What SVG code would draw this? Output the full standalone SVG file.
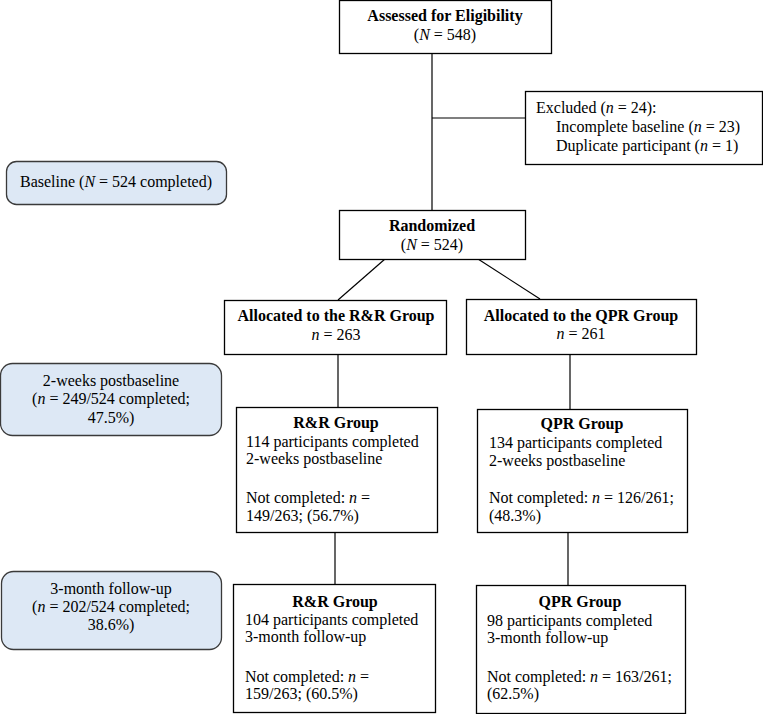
<svg xmlns="http://www.w3.org/2000/svg" width="763" height="714" viewBox="0 0 763 714">
<style>
text{font-family:"Liberation Serif","Times New Roman",serif;font-size:16px;fill:#000}
.b{font-weight:bold}
.c{text-anchor:middle}
.box{fill:#fff;stroke:#000;stroke-width:1.3}
.lbl{fill:#dde8f5;stroke:#3a3a3a;stroke-width:1.3}
.ln{stroke:#000;stroke-width:1.2;fill:none}
</style>
<rect width="763" height="714" fill="#fff"/>
<g id="connectors">
<line class="ln" x1="432" y1="53" x2="432" y2="210"/>
<line class="ln" x1="432" y1="118" x2="525" y2="118"/>
<line class="ln" x1="385" y1="259" x2="338" y2="300"/>
<line class="ln" x1="478" y1="259" x2="540" y2="299"/>
<line class="ln" x1="338" y1="354" x2="338" y2="407"/>
<line class="ln" x1="570" y1="354" x2="570" y2="409"/>
<line class="ln" x1="335" y1="532" x2="335" y2="584"/>
<line class="ln" x1="568" y1="532" x2="568" y2="585"/>
</g>
<g id="assessed">
<rect class="box" x="339.5" y="0.5" width="212" height="53"/>
<text class="b c" x="445" y="21">Assessed for Eligibility</text>
<text class="c" x="445" y="40">(<tspan font-style="italic">N</tspan> = 548)</text>
</g>
<g id="excluded">
<rect class="box" x="525.5" y="91.5" width="237" height="73"/>
<text x="536" y="113">Excluded (<tspan font-style="italic">n</tspan> = 24):</text>
<text x="556" y="132">Incomplete baseline (<tspan font-style="italic">n</tspan> = 23)</text>
<text x="556" y="151">Duplicate participant (<tspan font-style="italic">n</tspan> = 1)</text>
</g>
<g id="baseline">
<rect class="lbl" x="6.5" y="161.5" width="220" height="43" rx="10"/>
<text class="c" x="116" y="187">Baseline (<tspan font-style="italic">N</tspan> = 524 completed)</text>
</g>
<g id="randomized">
<rect class="box" x="339.5" y="210.5" width="186" height="49"/>
<text class="b c" x="432" y="231">Randomized</text>
<text class="c" x="432" y="250">(<tspan font-style="italic">N</tspan> = 524)</text>
</g>
<g id="alloc-rr">
<rect class="box" x="224.5" y="300.5" width="222" height="54"/>
<text class="b c" x="336" y="321">Allocated to the R&amp;R Group</text>
<text class="c" x="336" y="340"><tspan font-style="italic">n</tspan> = 263</text>
</g>
<g id="alloc-qpr">
<rect class="box" x="466.5" y="299.5" width="230" height="55"/>
<text class="b c" x="581" y="321">Allocated to the QPR Group</text>
<text class="c" x="581" y="339"><tspan font-style="italic">n</tspan> = 261</text>
</g>
<g id="label-2wk">
<rect class="lbl" x="0.5" y="363.5" width="221" height="72" rx="12"/>
<text class="c" x="111" y="386">2-weeks postbaseline</text>
<text class="c" x="111" y="404">(<tspan font-style="italic">n</tspan> = 249/524 completed;</text>
<text class="c" x="111" y="423">47.5%)</text>
</g>
<g id="rr-2wk">
<rect class="box" x="236.5" y="407.5" width="201" height="125"/>
<text class="b c" x="336" y="428">R&amp;R Group</text>
<text x="246" y="447">114 participants completed</text>
<text x="246" y="464">2-weeks postbaseline</text>
<text x="246" y="503">Not completed: <tspan font-style="italic">n</tspan> =</text>
<text x="246" y="521">149/263; (56.7%)</text>
</g>
<g id="qpr-2wk">
<rect class="box" x="477.5" y="409.5" width="210" height="123"/>
<text class="b c" x="582" y="429">QPR Group</text>
<text x="489" y="448">134 participants completed</text>
<text x="489" y="466">2-weeks postbaseline</text>
<text x="489" y="503">Not completed: <tspan font-style="italic">n</tspan> = 126/261;</text>
<text x="489" y="521">(48.3%)</text>
</g>
<g id="label-3mo">
<rect class="lbl" x="1.5" y="571.5" width="220" height="78" rx="12"/>
<text class="c" x="111" y="594">3-month follow-up</text>
<text class="c" x="111" y="612">(<tspan font-style="italic">n</tspan> = 202/524 completed;</text>
<text class="c" x="111" y="630">38.6%)</text>
</g>
<g id="rr-3mo">
<rect class="box" x="233.5" y="584.5" width="202" height="128"/>
<text class="b c" x="335" y="607">R&amp;R Group</text>
<text x="245" y="625">104 participants completed</text>
<text x="245" y="642">3-month follow-up</text>
<text x="245" y="682">Not completed: <tspan font-style="italic">n</tspan> =</text>
<text x="245" y="699">159/263; (60.5%)</text>
</g>
<g id="qpr-3mo">
<rect class="box" x="476.5" y="585.5" width="209" height="128"/>
<text class="b c" x="580" y="607">QPR Group</text>
<text x="487" y="626">98 participants completed</text>
<text x="487" y="643">3-month follow-up</text>
<text x="487" y="682">Not completed: <tspan font-style="italic">n</tspan> = 163/261;</text>
<text x="487" y="699">(62.5%)</text>
</g>
</svg>
